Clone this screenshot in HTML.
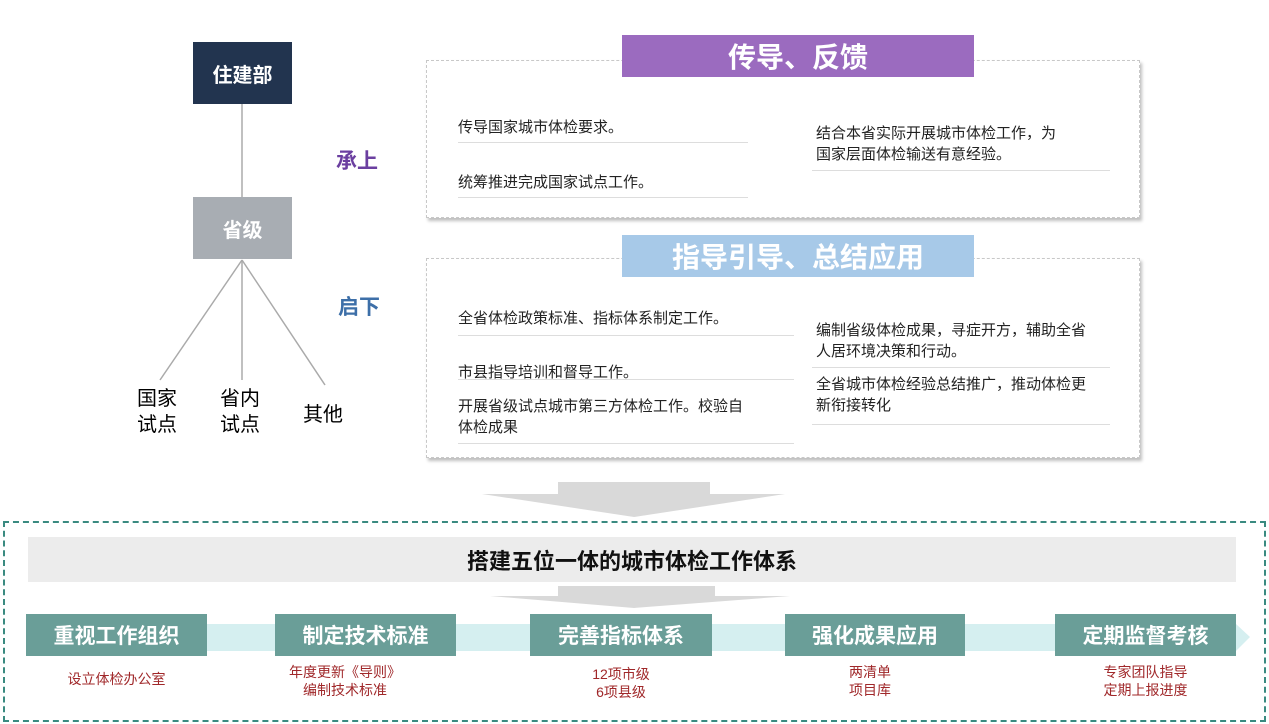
<!DOCTYPE html>
<html><head><meta charset="utf-8">
<style>
*{margin:0;padding:0;box-sizing:border-box}
body{width:1269px;height:724px;background:#fff;position:relative;overflow:hidden;font-family:"Liberation Sans","Noto Sans CJK SC",sans-serif}
.a{position:absolute}
.t{position:absolute;white-space:nowrap}
.box{position:absolute;display:flex;align-items:center;justify-content:center;color:#fff;font-weight:bold}
.p{font-size:15px;color:#222;line-height:21px}
.ln{position:absolute;height:1px;background:#ddd}
.panel{position:absolute;border:1px dashed #c8c8c8;box-shadow:2px 3px 3px rgba(0,0,0,.25);background:#fff}
.step{position:absolute;top:614px;height:42px;background:#6a9e98;color:#fff;font-weight:bold;font-size:21px;display:flex;align-items:center;justify-content:center}
.sub{position:absolute;font-size:14px;color:#a0282a;line-height:18px;text-align:center}
</style></head><body>
<svg class="a" style="left:0;top:0" width="1269" height="724">
<line x1="242" y1="104" x2="242" y2="197" stroke="#aaa" stroke-width="1.5"/>
<line x1="242" y1="260" x2="160" y2="380" stroke="#aaa" stroke-width="1.5"/>
<line x1="242" y1="260" x2="242" y2="380" stroke="#aaa" stroke-width="1.5"/>
<line x1="242" y1="260" x2="325" y2="385" stroke="#aaa" stroke-width="1.5"/>
<polygon points="558,482 710,482 710,494 785,494 634,517 482,494 558,494" fill="#d9d9d9"/>
</svg>
<div class="box" style="left:193px;top:42px;width:99px;height:62px;background:#22344f;font-size:20px">住建部</div>
<div class="box" style="left:193px;top:197px;width:99px;height:62px;background:#a8adb3;font-size:20px">省级</div>
<div class="t" style="left:137px;top:386px;font-size:20px;line-height:26px">国家<br>试点</div>
<div class="t" style="left:220px;top:386px;font-size:20px;line-height:26px">省内<br>试点</div>
<div class="t" style="left:303px;top:398px;font-size:20px">其他</div>
<div class="t" style="left:336px;top:145px;font-size:21px;font-weight:bold;color:#6b3fa0">承上</div>
<div class="t" style="left:338px;top:291px;font-size:21px;font-weight:bold;color:#3d6fa8">启下</div>

<div class="panel" style="left:426px;top:60px;width:714px;height:158px"></div>
<div class="box" style="left:622px;top:35px;width:352px;height:42px;background:#9b6bbf;font-size:28px">传导、反馈</div>
<div class="t p" style="left:458px;top:117px">传导国家城市体检要求。</div>
<div class="ln" style="left:458px;top:142px;width:290px"></div>
<div class="t p" style="left:458px;top:172px">统筹推进完成国家试点工作。</div>
<div class="ln" style="left:458px;top:197px;width:290px"></div>
<div class="t p" style="left:816px;top:123px">结合本省实际开展城市体检工作，为<br>国家层面体检输送有意经验。</div>
<div class="ln" style="left:812px;top:170px;width:298px"></div>

<div class="panel" style="left:426px;top:258px;width:714px;height:200px"></div>
<div class="box" style="left:622px;top:235px;width:352px;height:42px;background:#a7c9e8;font-size:28px">指导引导、总结应用</div>
<div class="t p" style="left:458px;top:308px">全省体检政策标准、指标体系制定工作。</div>
<div class="ln" style="left:458px;top:335px;width:336px"></div>
<div class="t p" style="left:458px;top:362px">市县指导培训和督导工作。</div>
<div class="ln" style="left:458px;top:379px;width:336px"></div>
<div class="t p" style="left:458px;top:396px">开展省级试点城市第三方体检工作。校验自<br>体检成果</div>
<div class="ln" style="left:458px;top:443px;width:336px"></div>
<div class="t p" style="left:816px;top:320px">编制省级体检成果，寻症开方，辅助全省<br>人居环境决策和行动。</div>
<div class="ln" style="left:812px;top:367px;width:298px"></div>
<div class="t p" style="left:816px;top:374px">全省城市体检经验总结推广，推动体检更<br>新衔接转化</div>
<div class="ln" style="left:812px;top:424px;width:298px"></div>

<div class="a" style="left:3px;top:521px;width:1263px;height:201px;border:2px dashed #3a8a80"></div>
<div class="box" style="left:28px;top:537px;width:1208px;height:45px;background:#ececec;color:#111;font-size:22px">搭建五位一体的城市体检工作体系</div>
<svg class="a" style="left:0;top:0" width="1269" height="724">
<polygon points="558,586 715,586 715,596 790,596 634,608 490,596 558,596" fill="#d9d9d9"/>
<polygon points="26,624 1236,624 1250,637 1236,651 26,651" fill="#d5eff0"/>
</svg>
<div class="step" style="left:26px;width:181px">重视工作组织</div>
<div class="step" style="left:275px;width:181px">制定技术标准</div>
<div class="step" style="left:530px;width:182px">完善指标体系</div>
<div class="step" style="left:785px;width:180px">强化成果应用</div>
<div class="step" style="left:1055px;width:181px">定期监督考核</div>
<div class="sub" style="left:26px;width:181px;top:670px">设立体检办公室</div>
<div class="sub" style="left:275px;width:140px;top:663px">年度更新《导则》<br>编制技术标准</div>
<div class="sub" style="left:530px;width:182px;top:665px">12项市级<br>6项县级</div>
<div class="sub" style="left:785px;width:170px;top:663px">两清单<br>项目库</div>
<div class="sub" style="left:1055px;width:181px;top:663px">专家团队指导<br>定期上报进度</div>
</body></html>
